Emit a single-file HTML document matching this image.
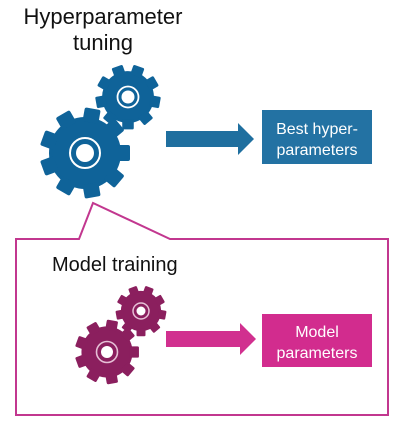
<!DOCTYPE html>
<html><head><meta charset="utf-8"><style>
html,body{margin:0;padding:0;background:#fff;}
body{width:400px;height:431px;overflow:hidden;}
text{font-family:"Liberation Sans",sans-serif;}
</style></head><body>
<svg width="400" height="431" viewBox="0 0 400 431" xmlns="http://www.w3.org/2000/svg">
<defs>
<g id="gear">
  <circle r="36" />
  <rect x="-8" y="-45" width="16" height="14" rx="2"/>
  <rect x="-8" y="-45" width="16" height="14" rx="2" transform="rotate(40)"/>
  <rect x="-8" y="-45" width="16" height="14" rx="2" transform="rotate(80)"/>
  <rect x="-8" y="-45" width="16" height="14" rx="2" transform="rotate(120)"/>
  <rect x="-8" y="-45" width="16" height="14" rx="2" transform="rotate(160)"/>
  <rect x="-8" y="-45" width="16" height="14" rx="2" transform="rotate(200)"/>
  <rect x="-8" y="-45" width="16" height="14" rx="2" transform="rotate(240)"/>
  <rect x="-8" y="-45" width="16" height="14" rx="2" transform="rotate(280)"/>
  <rect x="-8" y="-45" width="16" height="14" rx="2" transform="rotate(320)"/>
</g>
</defs>
<text x="103" y="24" font-size="22" text-anchor="middle" fill="#111">Hyperparameter</text>
<text x="103" y="50" font-size="22" text-anchor="middle" fill="#111">tuning</text>

<g fill="#0f6399">
  <use href="#gear" transform="translate(128,97) scale(0.72) rotate(20)"/>
  <use href="#gear" transform="translate(85,153) rotate(10)"/>
</g>
<circle cx="128" cy="97" r="10.5" fill="none" stroke="#fff" stroke-width="1.8"/>
<circle cx="128" cy="97" r="6.5" fill="#fff"/>
<circle cx="85" cy="153" r="15" fill="none" stroke="#fff" stroke-width="2"/>
<circle cx="85" cy="153" r="9" fill="#fff"/>

<polygon points="166,131 238,131 238,123 254,139 238,155 238,147 166,147" fill="#1f6f9f"/>
<rect x="262" y="110" width="110" height="54" fill="#2372a3"/>
<text x="317" y="134" font-size="16" text-anchor="middle" fill="#fff">Best hyper-</text>
<text x="317" y="155" font-size="16" text-anchor="middle" fill="#fff">parameters</text>

<path d="M79,239 L93,203 L170,239 L388,239 L388,415 L16,415 L16,239 Z" fill="none" stroke="#c2378f" stroke-width="2"/>
<text x="52" y="271" font-size="20" fill="#111">Model training</text>

<g fill="#8b1f5e">
  <use href="#gear" transform="translate(141,311) scale(0.56) rotate(20)"/>
  <use href="#gear" transform="translate(107,352) scale(0.71) rotate(10)"/>
</g>
<circle cx="141" cy="311" r="8" fill="none" stroke="#e6c0d6" stroke-width="1.5"/>
<circle cx="141" cy="311" r="4.5" fill="#fff"/>
<circle cx="107" cy="352" r="10.5" fill="none" stroke="#e6c0d6" stroke-width="1.6"/>
<circle cx="107" cy="352" r="6" fill="#fff"/>

<polygon points="166,331 240,331 240,323 256,339 240,355 240,347 166,347" fill="#d1308f"/>
<rect x="262" y="314" width="110" height="53" fill="#d22c8e"/>
<text x="317" y="337" font-size="16" text-anchor="middle" fill="#fff">Model</text>
<text x="317" y="358" font-size="16" text-anchor="middle" fill="#fff">parameters</text>
</svg>
</body></html>
